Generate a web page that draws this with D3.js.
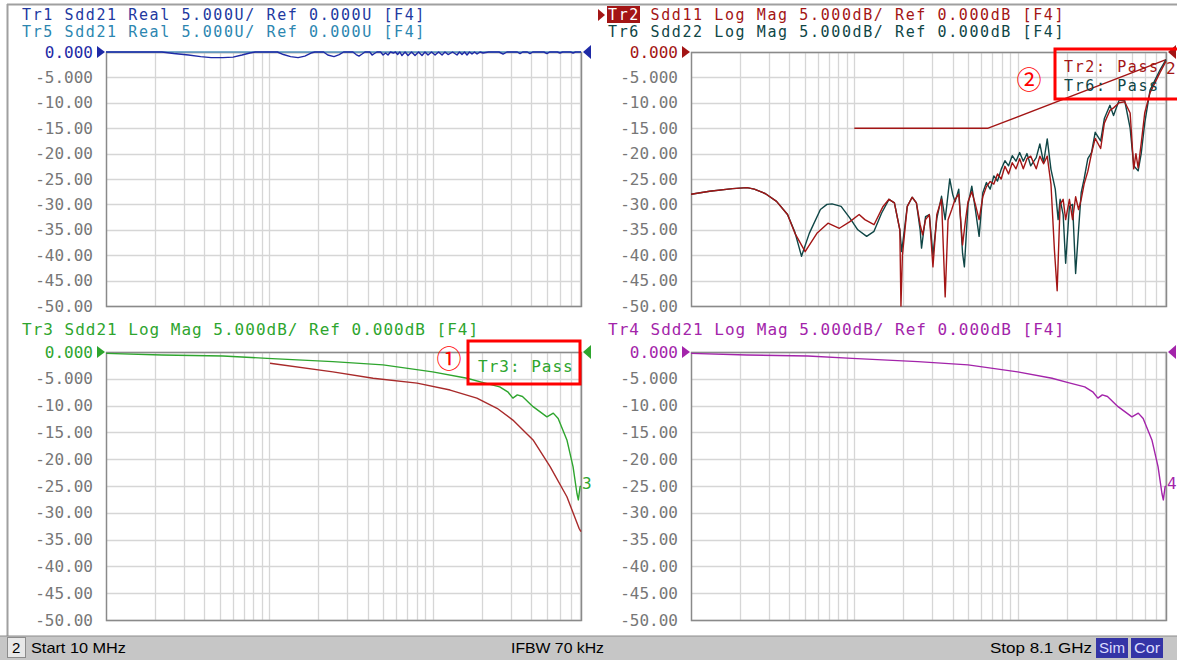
<!DOCTYPE html>
<html><head><meta charset="utf-8">
<script src="https://cdn.jsdelivr.net/npm/d3@7"></script>
<style>body{margin:0;background:#fff;} svg{display:block;}</style>
</head><body>
<script>
// ---------- DATA ----------
const freqStart = 10, freqStop = 8100; // MHz
const gridFreqs = [20,30,40,50,60,70,80,90,100,200,300,400,500,600,700,800,900,1000,2000,3000,4000,5000,6000,7000,8000];
const dbTicks = [0,-5,-10,-15,-20,-25,-30,-35,-40,-45,-50];
const tickLabels = ["0.000","-5.000","-10.00","-15.00","-20.00","-25.00","-30.00","-35.00","-40.00","-45.00","-50.00"];

// Tr5 Sdd21 Real (U)
const tr5 = [[10,0],[8100,0]];
// Tr1 Sdd21 Real (U)
const tr1 = [[10,0],[22,0],[26,-0.3],[32,-0.6],[38,-0.9],[44,-1.1],[52,-1.1],[60,-1.0],[68,-0.6],[76,-0.2],[82,0],
 [112,0],[122,-0.5],[135,-0.9],[150,-1.1],[165,-0.8],[180,-0.2],[190,0],
 [215,0],[228,-0.6],[249,-0.9],[268,-0.5],[285,0],
 [325,0],[340,-0.5],[354,-0.8],[370,-0.4],[385,0],
 [412,0],[426,-0.6],[440,-0.3],[456,0],
 [480,0],[497,-0.6],[515,-0.2],[533,-0.6],[552,0],[575,-0.2],[592,0],[610,-0.5],[630,0],
 [649,-0.7],[678,0],[707,-0.7],[743,0],[780,-0.7],[820,0],[861,-0.7],[898,0],[937,-0.6],[985,0],[1035,-0.6],[1088,0],
 [1142,-0.6],[1190,0],[1243,-0.5],[1325,0],[1410,-0.6],[1460,0],[1513,-0.5],[1568,0],[1624,-0.6],[1682,0],[1742,-0.4],
 [1805,0],[1871,-0.4],[1950,0],[2036,-0.2],[2200,0],
 [2550,0],[2700,-0.4],[2850,0],[3300,0],[3430,-0.3],[3560,0],[3800,0],[3946,-0.3],[4100,0],[4800,0],[5010,-0.3],[5200,0],
 [5800,0],[6025,-0.2],[6250,0],[7000,0],[7240,-0.2],[7500,0],[8100,0]];

// Tr6 Sdd22 Log Mag (dB)
const tr6 = [[10,-28.0],[13,-27.4],[18,-26.9],[22,-26.7],[24.4,-27.0],[28.6,-27.9],[33.4,-29.4],[39,-32.0],[43.3,-35.5],
 [47.5,-40.2],[53,-35.7],[62,-31],[68,-30],[73,-29.9],[83,-30.4],[94,-32.7],[105,-35],[119,-36.3],[132,-35.3],[147,-31.7],
 [163,-29.0],[176,-29.7],[190,-35],[195,-39.3],[211,-30.4],[226,-28.6],[240,-29.7],[253,-35],[258,-38.6],[273,-32.4],
 [288,-32],[303,-40],[320,-32.8],[342,-28.4],[360,-33],[384,-25],[400,-28],[414,-29.5],[436,-27],[460,-39.6],[472,-42.3],
 [497,-30],[524,-26.4],[551,-31],[581,-36.3],[612,-27.7],[644,-25.7],[679,-27],[715,-24.4],[753,-25.4],[793,-23.1],
 [836,-21.4],[880,-22.4],[927,-20.4],[977,-21.5],[1029,-19.8],[1083,-21.5],[1141,-20],[1202,-22.4],[1300,-20.8],
 [1368,-18.1],[1442,-21.8],[1518,-17.1],[1600,-23.1],[1700,-27],[1770,-33],[1820,-29],[1900,-32],[1968,-41.6],
 [2075,-30.4],[2170,-30],[2265,-43.6],[2361,-35],[2450,-27.7],[2553,-25],[2690,-21],[2833,-19.8],[2985,-15.8],
 [3224,-17.5],[3396,-13.1],[3673,-10.5],[3866,-12.5],[4180,-9.5],[4520,-9.5],[4885,-15],[5140,-22.4],[5470,-23.4],
 [5710,-20],[6000,-14],[6470,-7.5],[7450,-3.5],[8100,-1.5]];

// Tr2 Sdd11 Log Mag (dB)
const tr2 = [[10,-28.0],[13,-27.4],[18,-26.9],[22,-26.7],[24.4,-27.0],[28.6,-27.9],[33.4,-29.4],[39,-32.0],[43.3,-35.7],
 [50,-39.3],[59,-35.7],[69,-33.7],[81,-34.7],[94,-33.4],[107,-32],[116,-33],[132,-34],[150,-30.4],[163,-29],[176,-29.7],
 [190,-35],[193,-50],[197,-40],[211,-30.4],[226,-28.6],[240,-29.7],[253,-34],[262,-36],[273,-33],[288,-32],[303,-42.3],
 [320,-32],[342,-29],[360,-48.2],[375,-33],[395,-31],[414,-29],[436,-28],[460,-38],[480,-33],[497,-29.5],[524,-27.5],
 [551,-30],[581,-33],[612,-28.5],[644,-26.5],[679,-25.5],[715,-26],[753,-24],[793,-25],[836,-22.5],[880,-24],
 [927,-21.8],[977,-23],[1029,-21],[1083,-23],[1141,-21],[1202,-20.5],[1300,-23],[1368,-20.5],[1442,-22],[1518,-20.5],
 [1600,-26],[1680,-39],[1746,-47],[1820,-30],[1900,-29],[1968,-33],[2075,-29],[2170,-33],[2265,-28.5],[2361,-31],
 [2450,-29],[2553,-26],[2690,-23.5],[2833,-20],[2985,-17],[3224,-19],[3396,-14],[3673,-11.5],[3866,-11],[4180,-10],
 [4520,-9.8],[4885,-12],[5140,-23],[5300,-20],[5470,-22.8],[5710,-18],[6000,-12],[6470,-8],[7450,-4],[8100,-1.8]];

// Tr2 limit line (dB)
const tr2Limit = [[100,-15],[660,-15],[8100,-1.5]];

// Tr3 Sdd21 Log Mag (dB)
const tr3 = [[10,-0.25],[22,-0.56],[52,-0.75],[97,-1.18],[245,-1.8],[497,-2.4],[1000,-3.7],[1624,-4.9],[2040,-5.7],
 [2575,-6.5],[2900,-7.5],[3100,-8.6],[3300,-8.0],[3550,-8.3],[4120,-10.2],[5010,-12.1],[5480,-11.4],[5870,-12.4],
 [6640,-16.4],[7240,-21.4],[7650,-26.4],[7800,-27.6],[8000,-25.1],[8100,-25]];
// Tr3 limit line (dB)
const tr3Limit = [[101,-2.1],[245,-3.7],[432,-4.9],[803,-5.8],[1280,-7.1],[1865,-8.6],[2480,-10.5],[3100,-12.7],
 [4120,-16.4],[5240,-21.4],[6640,-27],[7880,-32.9],[8100,-33.5]];

// Tr4 Sdd21 Log Mag (dB)
const tr4 = [[10,-0.25],[22,-0.56],[52,-0.75],[97,-1.18],[245,-1.8],[497,-2.4],[1000,-3.7],[1624,-4.9],[2040,-5.7],
 [2575,-6.5],[2900,-7.5],[3100,-8.6],[3300,-8.0],[3550,-8.3],[4120,-10.2],[5010,-12.1],[5480,-11.4],[5870,-12.4],
 [6640,-16.4],[7240,-21.4],[7650,-26.4],[7800,-27.6],[8000,-25.1],[8100,-25]];

// ---------- DRAW ----------
const W = 1177, H = 660;
const mono = "'DejaVu Sans Mono', monospace";
const svg = d3.select("body").append("svg").attr("width", W).attr("height", H);

const C = {tr1:"#1e2aa6", tr5:"#5b9cc8", tr1t:"#22399f", tr5t:"#2c86b0", tr2:"#a31515", tr6:"#0f4646",
  tr3:"#2ea52e", lim3:"#a82a2a", tr4:"#a324aa", gray:"#777", grid:"#d6d6d6", frame:"#8a8a8a", box:"#ff0000"};

svg.append("line").attr("x1",7.5).attr("x2",7.5).attr("y1",4).attr("y2",636).attr("stroke","#a0a0a0").attr("stroke-width",2);
svg.append("line").attr("x1",7).attr("x2",W).attr("y1",4.5).attr("y2",4.5).attr("stroke","#a0a0a0").attr("stroke-width",2);

const panels = [
  {x0:106, x1:581, y0:52, y1:306, refColor:C.tr1, lines:[{d:tr5,c:C.tr5},{d:tr1,c:C.tr1}]},
  {x0:691, x1:1166, y0:52, y1:306, refColor:C.tr2, lines:[{d:tr2Limit,c:C.tr2},{d:tr6,c:C.tr6},{d:tr2,c:C.tr2}]},
  {x0:106, x1:581, y0:352, y1:620, refColor:C.tr3, lines:[{d:tr3Limit,c:C.lim3},{d:tr3,c:C.tr3}]},
  {x0:691, x1:1166, y0:352, y1:620, refColor:C.tr4, lines:[{d:tr4,c:C.tr4}]}
];

panels.forEach((p, i) => {
  const x = d3.scaleLog().domain([freqStart, freqStop]).range([p.x0, p.x1]);
  const y = d3.scaleLinear().domain([-50, 0]).range([p.y1, p.y0]);
  const g = svg.append("g");
  g.selectAll(".vg").data(gridFreqs).enter().append("line")
    .attr("x1", d => Math.round(x(d)) + 0.5).attr("x2", d => Math.round(x(d)) + 0.5)
    .attr("y1", p.y0).attr("y2", p.y1).attr("stroke", C.grid).attr("stroke-width", 1.3);
  g.selectAll(".hg").data(dbTicks).enter().append("line")
    .attr("x1", p.x0).attr("x2", p.x1)
    .attr("y1", d => Math.round(y(d)) + 0.5).attr("y2", d => Math.round(y(d)) + 0.5)
    .attr("stroke", C.grid).attr("stroke-width", 1.3);
  g.append("rect").attr("x", p.x0 + 0.5).attr("y", p.y0 + 0.5).attr("width", p.x1 - p.x0).attr("height", p.y1 - p.y0)
    .attr("fill", "none").attr("stroke", C.frame).attr("stroke-width", 1.5);
  g.selectAll(".yl").data(dbTicks).enter().append("text")
    .attr("x", p.x0 - 13).attr("y", d => y(d) + 5.5)
    .attr("text-anchor", "end").attr("font-family", mono).attr("font-size", 16)
    .attr("fill", (d, j) => j === 0 ? p.refColor : C.gray)
    .text((d, j) => tickLabels[j]);
  g.append("path").attr("d", `M${p.x0-9},${p.y0-6}L${p.x0-1},${p.y0}L${p.x0-9},${p.y0+6}Z`).attr("fill", p.refColor);
  g.append("path").attr("d", `M${p.x1+10},${p.y0-7}L${p.x1+2},${p.y0}L${p.x1+10},${p.y0+7}Z`).attr("fill", p.refColor);
  const cid = "clip" + i;
  svg.append("clipPath").attr("id", cid).append("rect")
    .attr("x", p.x0).attr("y", p.y0 - 2).attr("width", p.x1 - p.x0 + 1).attr("height", p.y1 - p.y0 + 3);
  const line = d3.line().x(d => x(d[0])).y(d => y(d[1]));
  p.lines.forEach(l => {
    g.append("path").datum(l.d).attr("d", line).attr("fill", "none").attr("stroke", l.c)
      .attr("stroke-width", 1.4).attr("stroke-linejoin", "round").attr("clip-path", `url(#${cid})`);
  });
});

function hdr(txt, xx, yy, col, fs) {
  fs = fs || 16;
  return svg.append("text").attr("x", xx).attr("y", yy).attr("font-family", mono).attr("font-size", fs)
    .attr("letter-spacing", 10.63 - fs * 0.602).attr("fill", col).text(txt);
}
hdr("Tr1 Sdd21 Real 5.000U/ Ref 0.000U [F4]", 22, 19.5, C.tr1t, 15);
hdr("Tr5 Sdd21 Real 5.000U/ Ref 0.000U [F4]", 22, 37, C.tr5t, 15);
svg.append("path").attr("d", "M598,9L605,15L598,21Z").attr("fill", C.tr2);
svg.append("rect").attr("x", 607).attr("y", 6).attr("width", 33).attr("height", 17).attr("fill", C.tr2);
const t2 = svg.append("text").attr("x", 608).attr("y", 19.5).attr("font-family", mono).attr("font-size", 15)
  .attr("letter-spacing", 10.63 - 15 * 0.602);
t2.append("tspan").attr("fill", "#fff").text("Tr2");
t2.append("tspan").attr("fill", C.tr2).text(" Sdd11 Log Mag 5.000dB/ Ref 0.000dB [F4]");
hdr("Tr6 Sdd22 Log Mag 5.000dB/ Ref 0.000dB [F4]", 608, 37, C.tr6, 15);
hdr("Tr3 Sdd21 Log Mag 5.000dB/ Ref 0.000dB [F4]", 22, 335, C.tr3);
hdr("Tr4 Sdd21 Log Mag 5.000dB/ Ref 0.000dB [F4]", 608, 335, C.tr4);

hdr("3", 582, 489, C.tr3);
hdr("4", 1167, 489, C.tr4);
hdr("2", 1166, 74, C.tr2);

svg.append("rect").attr("x", 468).attr("y", 341).attr("width", 112).attr("height", 43)
  .attr("fill", "none").attr("stroke", C.box).attr("stroke-width", 3);
hdr("Tr3: Pass", 478, 372, C.tr3);
svg.append("rect").attr("x", 1055).attr("y", 49).attr("width", 130).attr("height", 50)
  .attr("fill", "none").attr("stroke", C.box).attr("stroke-width", 3);
hdr("Tr2: Pass", 1064, 72, C.tr2, 15);
hdr("Tr6: Pass", 1064, 91, C.tr6, 15);
svg.append("text").attr("x", 449).attr("y", 368).attr("text-anchor", "middle")
  .attr("font-family", "'Noto Sans CJK SC', 'DejaVu Sans'").attr("font-size", 25)
  .attr("fill", C.box).text("①");
svg.append("text").attr("x", 1029).attr("y", 89).attr("text-anchor", "middle")
  .attr("font-family", "'Noto Sans CJK SC', 'DejaVu Sans'").attr("font-size", 25)
  .attr("fill", C.box).text("②");

const sb = svg.append("g");
sb.append("rect").attr("x", 0).attr("y", 636).attr("width", W).attr("height", 24).attr("fill", "#c6c6c6");
sb.append("line").attr("x1", 0).attr("x2", W).attr("y1", 636).attr("y2", 636).attr("stroke", "#8c8c8c");
sb.append("rect").attr("x", 7.5).attr("y", 637.5).attr("width", 18).attr("height", 20).attr("fill", "#e8e8e8").attr("stroke", "#8c8c8c");
const narrow = "'Liberation Sans Narrow', 'Liberation Sans', sans-serif";
function st(txt, xx, col, anchor, len) {
  const t = sb.append("text").attr("x", xx).attr("y", 653).attr("font-family", narrow).attr("font-size", 15)
    .attr("fill", col).attr("text-anchor", anchor || "start").text(txt);
  if (len) t.attr("textLength", len).attr("lengthAdjust", "spacingAndGlyphs");
  return t;
}
st("2", 12, "#000");
st("Start 10 MHz", 31, "#000", "start", 95);
st("IFBW 70 kHz", 511, "#000", "start", 93);
st("Stop 8.1 GHz", 990, "#000", "start", 102);
sb.append("rect").attr("x", 1096).attr("y", 638).attr("width", 32).attr("height", 20).attr("fill", "#3434a6");
sb.append("rect").attr("x", 1131).attr("y", 638).attr("width", 32).attr("height", 20).attr("fill", "#3434a6");
st("Sim", 1099, "#dcdcff", "start", 26);
st("Cor", 1134, "#dcdcff", "start", 26);
</script>
</body></html>
